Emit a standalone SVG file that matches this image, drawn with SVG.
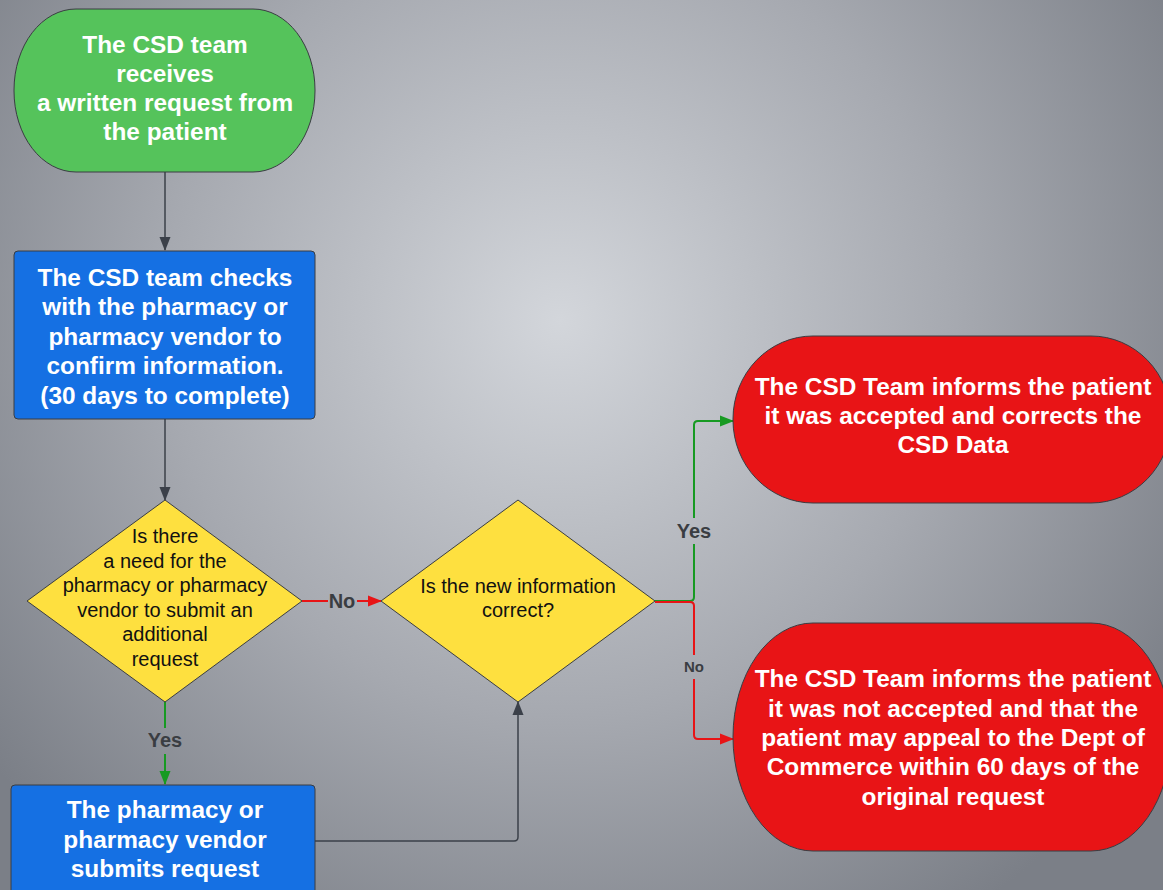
<svg xmlns="http://www.w3.org/2000/svg" width="1163" height="890" viewBox="0 0 1163 890">
<defs>
<radialGradient id="bg" cx="560" cy="320" r="720" gradientUnits="userSpaceOnUse">
<stop offset="0" stop-color="#d3d6db"/>
<stop offset="0.55" stop-color="#a6a9b0"/>
<stop offset="1" stop-color="#7b7f87"/>
</radialGradient>
<marker id="ag" markerWidth="14" markerHeight="14" refX="13" refY="7" orient="auto" markerUnits="userSpaceOnUse"><path d="M0,1.5 L14,7 L0,12.5 Z" fill="#3b4049"/></marker>
<marker id="ar" markerWidth="14" markerHeight="14" refX="13" refY="7" orient="auto" markerUnits="userSpaceOnUse"><path d="M0,1.5 L14,7 L0,12.5 Z" fill="#e81416"/></marker>
<marker id="agr" markerWidth="14" markerHeight="14" refX="13" refY="7" orient="auto" markerUnits="userSpaceOnUse"><path d="M0,1.5 L14,7 L0,12.5 Z" fill="#179a22"/></marker>
</defs>
<style>
.node{stroke:#3a3d42;stroke-width:1}
.green{fill:#55c35b}
.blue{fill:#1570e3}
.red{fill:#e81416}
.yellow{fill:#fee03f}
.wt{font-family:"Liberation Sans",Arial,sans-serif;font-weight:bold;font-size:24.4px;fill:#ffffff;text-anchor:middle}
.bt{font-family:"Liberation Sans",Arial,sans-serif;font-size:20px;fill:#111111;text-anchor:middle}
.lbl{font-family:"Liberation Sans",Arial,sans-serif;font-weight:bold;font-size:20px;fill:#3a3d42;text-anchor:middle}
.lbls{font-family:"Liberation Sans",Arial,sans-serif;font-weight:bold;font-size:15px;fill:#3a3d42;text-anchor:middle}
.cg{fill:none;stroke:#3b4049;stroke-width:1.5}
.cr{fill:none;stroke:#e81416;stroke-width:2}
.cgr{fill:none;stroke:#179a22;stroke-width:2}
</style>
<rect x="0" y="0" width="1163" height="890" fill="url(#bg)"/>

<g id="connectors">
<path class="cg" d="M165,172 L165,250" marker-end="url(#ag)"/>
<path class="cg" d="M165,419 L165,500" marker-end="url(#ag)"/>
<path class="cr" d="M302,601 L328,601"/>
<path class="cr" d="M357,601 L381,601" marker-end="url(#ar)"/>
<text class="lbl" x="342" y="608">No</text>
<path class="cgr" d="M165,702 L165,728"/>
<path class="cgr" d="M165,754 L165,784" marker-end="url(#agr)"/>
<text class="lbl" x="165" y="747">Yes</text>
<path class="cgr" d="M655,601 L690,601 Q694,601 694,597 L694,544"/>
<path class="cgr" d="M694,518 L694,425 Q694,421 698,421 L733,421" marker-end="url(#agr)"/>
<text class="lbl" x="694" y="538">Yes</text>
<path class="cr" d="M655,602 L690,602 Q694,602 694,606 L694,655"/>
<path class="cr" d="M694,679 L694,735 Q694,739 698,739 L733,739" marker-end="url(#ar)"/>
<text class="lbls" x="694" y="672">No</text>
<path class="cg" d="M315,841 L514,841 Q518,841 518,837 L518,702" marker-end="url(#ag)"/>
</g>

<g id="start">
<rect class="node green" x="14" y="9" width="301" height="163" rx="62" ry="81"/>
<text class="wt" x="165" y="52.5">The CSD team</text>
<text class="wt" x="165" y="81.5">receives</text>
<text class="wt" x="165" y="110.5">a written request from</text>
<text class="wt" x="165" y="139.5">the patient</text>
</g>

<g id="check">
<rect class="node blue" x="14" y="251" width="301" height="168" rx="4"/>
<text class="wt" x="165" y="285.5">The CSD team checks</text>
<text class="wt" x="165" y="315">with the pharmacy or</text>
<text class="wt" x="165" y="344.5">pharmacy vendor to</text>
<text class="wt" x="165" y="374">confirm information.</text>
<text class="wt" x="165" y="403.5">(30 days to complete)</text>
</g>

<g id="decision1">
<path class="node yellow" d="M165,500 L302,601 L165,702 L27,601 Z" stroke-linejoin="round"/>
<text class="bt" x="165" y="543">Is there</text>
<text class="bt" x="165" y="568">a need for the</text>
<text class="bt" x="165" y="592">pharmacy or pharmacy</text>
<text class="bt" x="165" y="617">vendor to submit an</text>
<text class="bt" x="165" y="641">additional</text>
<text class="bt" x="165" y="666">request</text>
</g>

<g id="decision2">
<path class="node yellow" d="M518,500 L655,601 L518,702 L381,601 Z" stroke-linejoin="round"/>
<text class="bt" x="518" y="593">Is the new information</text>
<text class="bt" x="518" y="617">correct?</text>
</g>

<g id="accepted">
<rect class="node red" x="733" y="336" width="438" height="167" rx="80" ry="83"/>
<text class="wt" x="953" y="394.5">The CSD Team informs the patient</text>
<text class="wt" x="953" y="423.5">it was accepted and corrects the</text>
<text class="wt" x="953" y="452.5">CSD Data</text>
</g>

<g id="rejected">
<rect class="node red" x="733" y="623" width="438" height="228" rx="80" ry="114"/>
<text class="wt" x="953" y="686.5">The CSD Team informs the patient</text>
<text class="wt" x="953" y="716.5">it was not accepted and that the</text>
<text class="wt" x="953" y="745.5">patient may appeal to the Dept of</text>
<text class="wt" x="953" y="774.5">Commerce within 60 days of the</text>
<text class="wt" x="953" y="804.5">original request</text>
</g>

<g id="submit">
<rect class="node blue" x="11" y="785" width="304" height="120" rx="4"/>
<text class="wt" x="165" y="817.5">The pharmacy or</text>
<text class="wt" x="165" y="847.5">pharmacy vendor</text>
<text class="wt" x="165" y="876.5">submits request</text>
</g>
</svg>
